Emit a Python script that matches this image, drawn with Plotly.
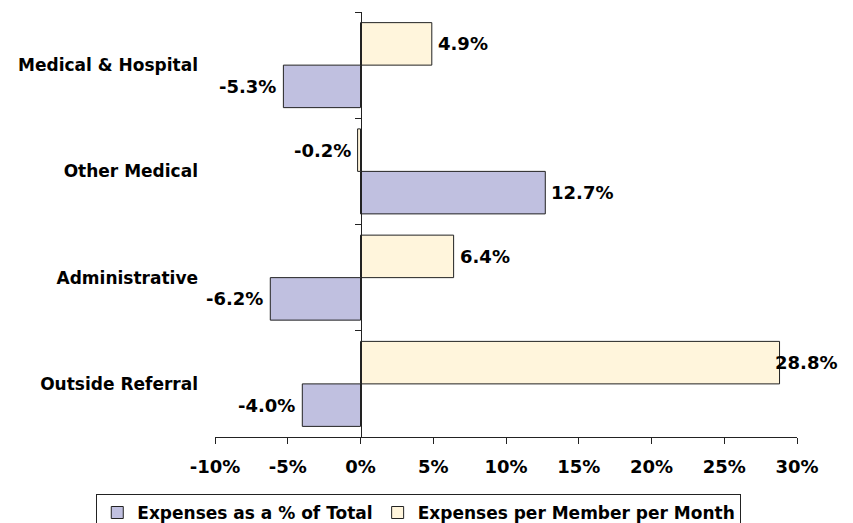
import plotly.graph_objects as go

categories = ["Medical & Hospital", "Other Medical", "Administrative", "Outside Referral"]
pct_of_total = [-5.3, 12.7, -6.2, -4.0]
per_member_month = [4.9, -0.2, 6.4, 28.8]
series_names = ["Expenses as a % of Total", "Expenses per Member per Month"]
x_ticks = [-10, -5, 0, 5, 10, 15, 20, 25, 30]
x_ticktext = [f"{v}%" for v in x_ticks]

xmin, xmax = x_ticks[0], x_ticks[-1]
FONT = "DejaVu Sans"
LAV = "#C0C0E0"
CREAM = "#FFF5DC"
EDGE = "#222222"

fig = go.Figure()
fig.add_trace(go.Bar(
    y=categories, x=per_member_month, orientation="h", name=series_names[1],
    marker=dict(color=CREAM, line=dict(color=EDGE, width=1)),
    hoverinfo="skip",
))
fig.add_trace(go.Bar(
    y=categories, x=pct_of_total, orientation="h", name=series_names[0],
    marker=dict(color=LAV, line=dict(color=EDGE, width=1)),
    hoverinfo="skip",
))
# invisible trace that carries the category axis line drawn at x = 0
fig.add_trace(go.Scatter(
    x=[0] * len(categories), y=categories, mode="markers",
    marker=dict(opacity=0), showlegend=False, hoverinfo="skip", yaxis="y2",
))

bargap = 0.2
half = (1 - bargap) / 2
annotations = []
for series, offset in ((per_member_month, -half / 2), (pct_of_total, half / 2)):
    for i, v in enumerate(series):
        txt = f"{v:.1f}%"
        if v >= 0:
            if v > xmax - 2.5:
                anchor, shift = "left", -7
            else:
                anchor, shift = "left", 4
        else:
            anchor, shift = "right", -5
        annotations.append(dict(
            x=v, y=i + offset, xref="x", yref="y", text=txt, showarrow=False,
            xanchor=anchor, yanchor="middle", xshift=shift,
            font=dict(family=FONT, size=18, color="#000000", weight="bold"),
        ))

yrange = [len(categories) - 0.5, -0.5]
zero_pos = (0 - xmin) / (xmax - xmin)

fig.update_layout(
    width=853, height=523,
    margin=dict(l=215, r=56, t=12, b=86, autoexpand=False),
    paper_bgcolor="white", plot_bgcolor="white",
    barmode="group", bargap=bargap, bargroupgap=0,
    font=dict(family=FONT, size=17, color="#000000", weight="bold"),
    xaxis=dict(
        range=[xmin, xmax], tickvals=x_ticks, ticktext=x_ticktext,
        showgrid=False, zeroline=False, showline=True, linecolor=EDGE, linewidth=1,
        ticks="outside", ticklen=6, tickcolor=EDGE, automargin=False,
        ticklabelstandoff=7,
        tickfont=dict(family=FONT, size=18, weight="bold"),
    ),
    yaxis=dict(
        type="category", categoryorder="array", categoryarray=categories,
        range=yrange, showgrid=False, zeroline=False, showline=False,
        ticks="", ticklabelstandoff=16, automargin=False,
        tickfont=dict(family=FONT, size=17, weight="bold"),
    ),
    yaxis2=dict(
        type="category", categoryorder="array", categoryarray=categories,
        range=yrange, overlaying="y", anchor="free", position=zero_pos, side="left",
        showgrid=False, zeroline=False, showline=True, linecolor=EDGE, linewidth=1,
        ticks="outside", tickson="boundaries", ticklen=6, tickcolor=EDGE,
        showticklabels=False, automargin=False,
    ),
    legend=dict(
        orientation="h",
        x=-0.204, xanchor="left", y=-0.134, yanchor="top",
        traceorder="reversed", bordercolor=EDGE, borderwidth=1,
        font=dict(family=FONT, size=17, weight="bold"),
        itemwidth=30,
    ),
    annotations=annotations,
    showlegend=True,
)

fig.write_html(
    "out.html",
    config={"displayModeBar": False},
    post_script="document.body.style.margin='0';",
)
